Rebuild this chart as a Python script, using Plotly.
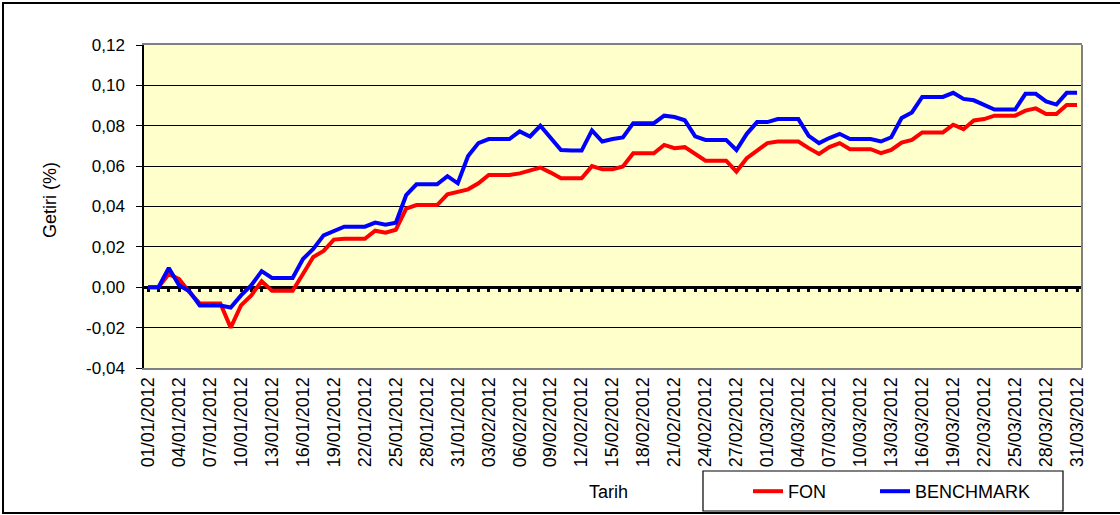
import pandas as pd
import plotly.graph_objects as go

# ---- data ----
dates = pd.date_range("2012-01-01", "2012-03-31", freq="D")

fon = [0, 0, 0.0066, 0.004, -0.0025, -0.008, -0.008, -0.008, -0.020, -0.009,
       -0.004, 0.003, -0.0017, -0.0017, -0.0017, 0.0066, 0.015, 0.018, 0.0236, 0.024,
       0.024, 0.024, 0.028, 0.027, 0.0285, 0.039, 0.0407, 0.0407, 0.0407, 0.046,
       0.047, 0.0485, 0.0515, 0.0556, 0.0556, 0.0556, 0.0564, 0.058, 0.0593, 0.0568,
       0.054, 0.054, 0.054, 0.060, 0.0584, 0.0584, 0.0598, 0.0664, 0.0664, 0.0664,
       0.0705, 0.0689, 0.0694, 0.066, 0.0627, 0.0627, 0.0627, 0.0573, 0.0639, 0.0677,
       0.0714, 0.0722, 0.0722, 0.0722, 0.0689, 0.066, 0.0694, 0.0714, 0.0684, 0.0684,
       0.0684, 0.0664, 0.068, 0.0717, 0.073, 0.0767, 0.0767, 0.0767, 0.0805, 0.0783,
       0.0826, 0.0833, 0.085, 0.085, 0.085, 0.0875, 0.0886, 0.0858, 0.0858, 0.0903,
       0.0903]

benchmark = [0, 0, 0.0095, 0.001, -0.002, -0.009, -0.009, -0.009, -0.010, -0.004,
             0.001, 0.008, 0.0046, 0.0046, 0.0046, 0.014, 0.019, 0.0257, 0.028, 0.030,
             0.030, 0.030, 0.032, 0.031, 0.032, 0.0456, 0.051, 0.051, 0.051, 0.055,
             0.0515, 0.065, 0.0714, 0.0734, 0.0734, 0.0734, 0.0772, 0.0747, 0.080, 0.0739,
             0.068, 0.0677, 0.0677, 0.0777, 0.0722, 0.0734, 0.0742, 0.0813, 0.0813, 0.0813,
             0.085, 0.0843, 0.0827, 0.0747, 0.073, 0.073, 0.073, 0.068, 0.076, 0.0818,
             0.0818, 0.0833, 0.0833, 0.0833, 0.075, 0.0714, 0.0739, 0.076, 0.0734, 0.0734,
             0.0734, 0.0722, 0.0743, 0.0838, 0.0866, 0.0943, 0.0943, 0.0943, 0.0963, 0.0933,
             0.0926, 0.0905, 0.088, 0.088, 0.088, 0.0958, 0.0958, 0.0921, 0.0905, 0.0963,
             0.0963]

y_tick_vals = [-0.04, -0.02, 0.00, 0.02, 0.04, 0.06, 0.08, 0.10, 0.12]
y_tick_text = ["-0,04", "-0,02", "0,00", "0,02", "0,04", "0,06", "0,08", "0,10", "0,12"]

series_names = ["FON", "BENCHMARK"]
series_colors = ["#FF0000", "#0000FF"]

# ---- figure ----
FONT = "Liberation Sans, Arial, sans-serif"
y_min, y_max = -0.04, 0.12
zero_pos = (0 - y_min) / (y_max - y_min)
x_range = ["2011-12-31 14:24", "2012-03-31 11:30"]
DAY = 86400000

fig = go.Figure()
fig.add_trace(go.Scatter(x=dates, y=fon, name=series_names[0], mode="lines",
                         line=dict(color=series_colors[0], width=4), xaxis="x", yaxis="y",
                         legend="legend"))
fig.add_trace(go.Scatter(x=dates, y=benchmark, name=series_names[1], mode="lines",
                         line=dict(color=series_colors[1], width=4), xaxis="x2", yaxis="y",
                         legend="legend2"))

W, H = 1120, 515
ml, mr, mt, mb = 144, 38, 45, 147
pw, ph = W - ml - mr, H - mt - mb


def px_x(p):
    return (p - ml) / pw


def px_y(p):
    return (H - mb - p) / ph


legend_common = dict(orientation="h", xanchor="left", y=px_y(491.5), yanchor="middle",
                     bgcolor="rgba(0,0,0,0)", borderwidth=0, font=dict(size=18))

fig.update_layout(
    width=W, height=H, autosize=False,
    margin=dict(l=ml, r=mr, t=mt, b=mb, autoexpand=False),
    paper_bgcolor="white",
    plot_bgcolor="#FFFFCC",
    font=dict(family=FONT, size=17, color="#000000"),
    showlegend=True,
    legend=dict(x=px_x(748), **legend_common),
    legend2=dict(x=px_x(875), **legend_common),
    xaxis=dict(type="date", range=x_range, tick0="2012-01-01", dtick=3 * DAY,
               tickformat="%d/%m/%Y", tickangle=-90, showgrid=False, ticks="",
               showline=True, linecolor="#808080", linewidth=2, mirror=True,
               tickfont=dict(size=18), zeroline=False),
    xaxis2=dict(type="date", range=x_range, overlaying="x", anchor="free", position=zero_pos,
                tick0="2012-01-01", dtick=DAY, ticks="outside", ticklen=3, tickwidth=3,
                tickcolor="black", showticklabels=False, showgrid=False,
                showline=True, linecolor="black", linewidth=3, layer="below traces"),
    yaxis=dict(range=[y_min, y_max], tickvals=y_tick_vals, ticktext=y_tick_text,
               showgrid=True, gridcolor="black", gridwidth=1, zeroline=False,
               showline=True, linecolor="black", linewidth=1.5,
               ticks="outside", ticklen=6, tickcolor="black", tickwidth=1,
               ticklabelstandoff=8, tickfont=dict(size=17)),
    shapes=[
        dict(type="line", xref="paper", yref="paper", x0=1, x1=1, y0=0, y1=1,
             line=dict(color="#808080", width=2)),
        dict(type="rect", xref="paper", yref="paper", x0=px_x(703), x1=px_x(1063),
             y0=px_y(511), y1=px_y(471), line=dict(color="black", width=1.2)),
        dict(type="rect", xref="paper", yref="paper", x0=px_x(3), x1=px_x(1122),
             y0=px_y(513), y1=px_y(3), line=dict(color="black", width=2)),
    ],
    annotations=[
        dict(text="Getiri (%)", xref="paper", yref="paper", x=px_x(50), y=px_y(200),
             textangle=-90, showarrow=False, font=dict(size=18), xanchor="center", yanchor="middle"),
        dict(text="Tarih", xref="paper", yref="paper", x=px_x(608), y=px_y(492),
             showarrow=False, font=dict(size=18), xanchor="center", yanchor="middle"),
    ],
)

fig.write_html("out.html",
               config={"displayModeBar": False, "responsive": False},
               post_script="document.body.style.margin='0';document.body.style.overflow='hidden';")
